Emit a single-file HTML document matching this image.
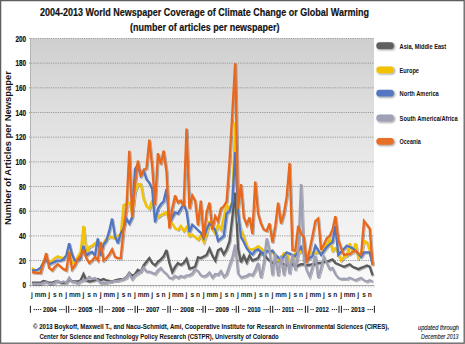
<!DOCTYPE html><html><head><meta charset="utf-8"><style>html,body{margin:0;padding:0;background:#fff;overflow:hidden}svg{display:block}</style></head><body><svg width="465" height="344" viewBox="0 0 465 344">
<defs>
<linearGradient id="bg" x1="0" y1="0" x2="0" y2="1">
<stop offset="0" stop-color="#cfcfcf"/><stop offset="0.25" stop-color="#dcdcdc"/><stop offset="0.45" stop-color="#e6e6e6"/><stop offset="0.7" stop-color="#f0f0f0"/><stop offset="1" stop-color="#f9f9f9"/>
</linearGradient>
<filter id="sh" x="-20%" y="-20%" width="140%" height="160%"><feGaussianBlur in="SourceAlpha" stdDeviation="0.8"/><feOffset dx="0.6" dy="1.2"/><feComponentTransfer><feFuncA type="linear" slope="0.45"/></feComponentTransfer><feMerge><feMergeNode/><feMergeNode in="SourceGraphic"/></feMerge></filter>
<filter id="lsh" x="-5%" y="-5%" width="110%" height="110%"><feGaussianBlur in="SourceAlpha" stdDeviation="0.7"/><feOffset dx="0.5" dy="1"/><feComponentTransfer><feFuncA type="linear" slope="0.3"/></feComponentTransfer><feMerge><feMergeNode/><feMergeNode in="SourceGraphic"/></feMerge></filter>
</defs>
<rect x="0" y="0" width="465" height="344" fill="#fff"/>
<rect x="0.6" y="0.6" width="463.6" height="342.6" fill="none" stroke="#5e5e5e" stroke-width="1.3"/>
<rect x="30.5" y="38.4" width="343.5" height="246.8" fill="url(#bg)"/>
<line x1="29" y1="260.53" x2="374" y2="260.53" stroke="#939393" stroke-width="0.9" stroke-dasharray="1.2,1"/>
<line x1="29" y1="235.86" x2="374" y2="235.86" stroke="#939393" stroke-width="0.9" stroke-dasharray="1.2,1"/>
<line x1="29" y1="211.19" x2="374" y2="211.19" stroke="#939393" stroke-width="0.9" stroke-dasharray="1.2,1"/>
<line x1="29" y1="186.52" x2="374" y2="186.52" stroke="#939393" stroke-width="0.9" stroke-dasharray="1.2,1"/>
<line x1="29" y1="161.85" x2="374" y2="161.85" stroke="#939393" stroke-width="0.9" stroke-dasharray="1.2,1"/>
<line x1="29" y1="137.18" x2="374" y2="137.18" stroke="#939393" stroke-width="0.9" stroke-dasharray="1.2,1"/>
<line x1="29" y1="112.51" x2="374" y2="112.51" stroke="#939393" stroke-width="0.9" stroke-dasharray="1.2,1"/>
<line x1="29" y1="87.84" x2="374" y2="87.84" stroke="#939393" stroke-width="0.9" stroke-dasharray="1.2,1"/>
<line x1="29" y1="63.17" x2="374" y2="63.17" stroke="#939393" stroke-width="0.9" stroke-dasharray="1.2,1"/>
<line x1="29" y1="38.50" x2="374" y2="38.50" stroke="#939393" stroke-width="0.9" stroke-dasharray="1.2,1"/>
<line x1="30.5" y1="38.4" x2="30.5" y2="286" stroke="#b4b4b4" stroke-width="1"/>
<line x1="29" y1="285.5" x2="374" y2="285.5" stroke="#a8a8a8" stroke-width="1"/>
<text x="22.55" y="288.20" font-family="Liberation Sans, sans-serif" font-weight="bold" font-size="8.3" fill="#111" stroke="#111" stroke-width="0.2" textLength="3.55" lengthAdjust="spacingAndGlyphs">0</text>
<text x="19.00" y="263.53" font-family="Liberation Sans, sans-serif" font-weight="bold" font-size="8.3" fill="#111" stroke="#111" stroke-width="0.2" textLength="7.10" lengthAdjust="spacingAndGlyphs">20</text>
<text x="19.00" y="238.86" font-family="Liberation Sans, sans-serif" font-weight="bold" font-size="8.3" fill="#111" stroke="#111" stroke-width="0.2" textLength="7.10" lengthAdjust="spacingAndGlyphs">40</text>
<text x="19.00" y="214.19" font-family="Liberation Sans, sans-serif" font-weight="bold" font-size="8.3" fill="#111" stroke="#111" stroke-width="0.2" textLength="7.10" lengthAdjust="spacingAndGlyphs">60</text>
<text x="19.00" y="189.52" font-family="Liberation Sans, sans-serif" font-weight="bold" font-size="8.3" fill="#111" stroke="#111" stroke-width="0.2" textLength="7.10" lengthAdjust="spacingAndGlyphs">80</text>
<text x="15.45" y="164.85" font-family="Liberation Sans, sans-serif" font-weight="bold" font-size="8.3" fill="#111" stroke="#111" stroke-width="0.2" textLength="10.65" lengthAdjust="spacingAndGlyphs">100</text>
<text x="15.45" y="140.18" font-family="Liberation Sans, sans-serif" font-weight="bold" font-size="8.3" fill="#111" stroke="#111" stroke-width="0.2" textLength="10.65" lengthAdjust="spacingAndGlyphs">120</text>
<text x="15.45" y="115.51" font-family="Liberation Sans, sans-serif" font-weight="bold" font-size="8.3" fill="#111" stroke="#111" stroke-width="0.2" textLength="10.65" lengthAdjust="spacingAndGlyphs">140</text>
<text x="15.45" y="90.84" font-family="Liberation Sans, sans-serif" font-weight="bold" font-size="8.3" fill="#111" stroke="#111" stroke-width="0.2" textLength="10.65" lengthAdjust="spacingAndGlyphs">160</text>
<text x="15.45" y="66.17" font-family="Liberation Sans, sans-serif" font-weight="bold" font-size="8.3" fill="#111" stroke="#111" stroke-width="0.2" textLength="10.65" lengthAdjust="spacingAndGlyphs">180</text>
<text x="15.45" y="41.50" font-family="Liberation Sans, sans-serif" font-weight="bold" font-size="8.3" fill="#111" stroke="#111" stroke-width="0.2" textLength="10.65" lengthAdjust="spacingAndGlyphs">200</text>
<text transform="translate(11,225) rotate(-90)" font-family="Liberation Sans, sans-serif" font-weight="bold" font-size="9.6" fill="#111" textLength="154" lengthAdjust="spacingAndGlyphs">Number of Articles per Newspaper</text>
<text x="40" y="15.8" font-family="Liberation Sans, sans-serif" font-weight="bold" font-size="11.2" fill="#111" stroke="#111" stroke-width="0.18" textLength="329" lengthAdjust="spacingAndGlyphs">2004-2013 World Newspaper Coverage of Climate Change or Global Warming</text>
<text x="130" y="31.4" font-family="Liberation Sans, sans-serif" font-weight="bold" font-size="11.2" fill="#111" stroke="#111" stroke-width="0.18" textLength="149.5" lengthAdjust="spacingAndGlyphs">(number of articles per newspaper)</text>
<g filter="url(#lsh)">
<path d="M31.93,282.73 L34.79,282.73 L37.66,282.73 L40.52,282.73 L43.38,280.88 L46.24,281.50 L49.10,282.73 L51.97,282.73 L54.83,281.50 L57.69,280.88 L60.55,282.73 L63.42,282.73 L66.28,282.73 L69.14,279.03 L72.00,281.50 L74.87,281.50 L77.73,281.50 L80.59,280.27 L83.45,274.10 L86.32,280.27 L89.18,281.50 L92.04,280.88 L94.91,280.27 L97.77,279.03 L100.63,280.27 L103.49,279.03 L106.35,280.27 L109.22,280.88 L112.08,281.50 L114.94,280.27 L117.81,279.65 L120.67,279.03 L123.53,279.03 L126.39,277.18 L129.25,272.87 L132.12,275.95 L134.98,274.10 L137.84,269.90 L140.70,271.63 L143.57,265.46 L146.43,261.76 L149.29,258.06 L152.16,263.00 L155.02,265.46 L157.88,261.76 L160.74,259.30 L163.60,256.34 L166.47,249.92 L169.33,263.00 L172.19,272.12 L175.06,266.94 L177.92,263.00 L180.78,264.85 L183.64,263.00 L186.50,258.93 L189.37,268.67 L192.23,267.93 L195.09,266.70 L197.95,257.45 L200.82,258.06 L203.68,256.58 L206.54,254.98 L209.41,248.57 L212.27,255.60 L215.13,260.53 L217.99,250.17 L220.85,248.57 L223.72,254.36 L226.58,249.43 L229.44,241.41 L232.31,217.36 L235.17,192.69 L238.03,248.19 L240.89,262.26 L243.75,255.72 L246.62,262.26 L249.48,255.60 L252.34,260.53 L255.20,259.30 L258.07,258.06 L260.93,251.90 L263.79,253.13 L266.65,258.06 L269.52,260.53 L272.38,263.00 L275.24,263.00 L278.10,260.53 L280.97,263.00 L283.83,264.23 L286.69,265.46 L289.56,263.00 L292.42,264.23 L295.28,266.70 L298.14,265.46 L301.00,264.23 L303.87,264.23 L306.73,265.46 L309.59,264.85 L312.45,264.23 L315.32,264.23 L318.18,263.00 L321.04,263.00 L323.90,261.76 L326.77,261.76 L329.63,260.53 L332.49,259.30 L335.35,263.00 L338.22,264.23 L341.08,265.46 L343.94,266.70 L346.81,265.46 L349.67,264.23 L352.53,266.70 L355.39,267.93 L358.25,269.16 L361.12,267.93 L363.98,266.70 L366.84,265.46 L369.70,266.70 L372.57,275.33" fill="none" stroke="#5a5a5a" stroke-width="2.3" stroke-linejoin="miter" stroke-miterlimit="3"/>
<path d="M31.93,267.93 L34.79,270.40 L37.66,269.78 L40.52,267.93 L43.38,261.76 L46.24,258.06 L49.10,263.00 L51.97,260.53 L54.83,258.06 L57.69,256.21 L60.55,257.45 L63.42,258.06 L66.28,255.60 L69.14,250.66 L72.00,263.00 L74.87,263.00 L77.73,256.83 L80.59,251.90 L83.45,225.99 L86.32,253.13 L89.18,246.96 L92.04,245.73 L94.91,243.26 L97.77,240.79 L100.63,250.66 L103.49,243.26 L106.35,238.33 L109.22,237.09 L112.08,237.09 L114.94,238.33 L117.81,235.86 L120.67,234.63 L123.53,205.02 L126.39,203.79 L129.25,202.56 L132.12,213.66 L134.98,191.45 L137.84,184.05 L140.70,184.05 L143.57,198.85 L146.43,206.26 L149.29,208.72 L152.16,200.09 L155.02,213.66 L157.88,217.36 L160.74,214.89 L163.60,213.66 L166.47,212.42 L169.33,221.06 L172.19,223.52 L175.06,228.46 L177.92,229.69 L180.78,225.99 L183.64,230.93 L186.50,227.23 L189.37,235.86 L192.23,234.63 L195.09,237.09 L197.95,239.56 L200.82,235.86 L203.68,242.03 L206.54,233.39 L209.41,221.06 L212.27,229.69 L215.13,233.39 L217.99,224.76 L220.85,229.69 L223.72,217.36 L226.58,205.02 L229.44,208.72 L232.31,201.32 L235.17,122.38 L238.03,219.82 L240.89,229.69 L243.75,237.09 L246.62,245.73 L249.48,249.43 L252.34,249.43 L255.20,248.19 L258.07,246.22 L260.93,248.19 L263.79,251.03 L266.65,250.66 L269.52,251.90 L272.38,250.66 L275.24,258.06 L278.10,260.53 L280.97,258.06 L283.83,253.13 L286.69,253.13 L289.56,263.00 L292.42,260.53 L295.28,253.13 L298.14,253.13 L301.00,251.90 L303.87,245.73 L306.73,260.53 L309.59,251.90 L312.45,253.13 L315.32,253.13 L318.18,251.90 L321.04,253.13 L323.90,246.96 L326.77,244.49 L329.63,239.56 L332.49,250.66 L335.35,248.19 L338.22,253.13 L341.08,260.53 L343.94,256.83 L346.81,255.60 L349.67,243.26 L352.53,253.13 L355.39,243.26 L358.25,258.06 L361.12,254.36 L363.98,240.79 L366.84,242.03 L369.70,250.66 L372.57,263.00" fill="none" stroke="#f2c200" stroke-width="2.3" stroke-linejoin="miter" stroke-miterlimit="3"/>
<path d="M31.93,270.40 L34.79,270.40 L37.66,269.78 L40.52,267.93 L43.38,263.00 L46.24,259.30 L49.10,264.23 L51.97,263.00 L54.83,261.76 L57.69,260.53 L60.55,260.53 L63.42,259.30 L66.28,255.60 L69.14,243.26 L72.00,254.36 L74.87,260.53 L77.73,260.53 L80.59,258.06 L83.45,245.73 L86.32,255.60 L89.18,253.13 L92.04,251.90 L94.91,255.60 L97.77,238.33 L100.63,255.60 L103.49,244.49 L106.35,240.79 L109.22,230.93 L112.08,218.59 L114.94,235.86 L117.81,243.26 L120.67,233.39 L123.53,228.46 L126.39,218.59 L129.25,223.52 L132.12,217.36 L134.98,169.25 L137.84,164.32 L140.70,175.42 L143.57,170.48 L146.43,179.12 L149.29,182.82 L152.16,188.99 L155.02,222.29 L157.88,208.72 L160.74,204.28 L163.60,201.32 L166.47,188.99 L169.33,223.52 L172.19,217.36 L175.06,212.42 L177.92,213.66 L180.78,208.72 L183.64,204.28 L186.50,211.19 L189.37,232.16 L192.23,224.76 L195.09,227.23 L197.95,230.19 L200.82,232.78 L203.68,238.33 L206.54,229.69 L209.41,223.52 L212.27,225.99 L215.13,229.69 L217.99,240.79 L220.85,238.33 L223.72,235.86 L226.58,213.66 L229.44,211.19 L232.31,202.56 L235.17,151.98 L238.03,211.19 L240.89,237.09 L243.75,242.03 L246.62,248.19 L249.48,251.90 L252.34,254.36 L255.20,250.66 L258.07,249.43 L260.93,251.90 L263.79,255.60 L266.65,250.66 L269.52,251.90 L272.38,250.66 L275.24,254.86 L278.10,257.45 L280.97,260.04 L283.83,256.21 L286.69,252.39 L289.56,253.62 L292.42,254.86 L295.28,256.09 L298.14,251.53 L301.00,246.96 L303.87,253.50 L306.73,260.04 L309.59,258.06 L312.45,256.09 L315.32,245.73 L318.18,250.29 L321.04,254.86 L323.90,250.91 L326.77,246.96 L329.63,244.49 L332.49,242.03 L335.35,225.99 L338.22,254.86 L341.08,251.81 L343.94,248.77 L346.81,245.73 L349.67,246.96 L352.53,248.19 L355.39,250.66 L358.25,253.75 L361.12,256.83 L363.98,252.39 L366.84,252.39 L369.70,252.39 L372.57,264.85" fill="none" stroke="#4f74c4" stroke-width="2.3" stroke-linejoin="miter" stroke-miterlimit="3"/>
<path d="M31.93,283.97 L34.79,283.97 L37.66,283.97 L40.52,283.97 L43.38,282.73 L46.24,282.12 L49.10,283.97 L51.97,283.97 L54.83,282.73 L57.69,280.88 L60.55,282.73 L63.42,281.50 L66.28,282.73 L69.14,277.80 L72.00,282.12 L74.87,282.12 L77.73,283.35 L80.59,281.50 L83.45,280.27 L86.32,280.27 L89.18,276.81 L92.04,279.03 L94.91,278.05 L97.77,280.27 L100.63,283.35 L103.49,282.73 L106.35,282.73 L109.22,282.12 L112.08,281.50 L114.94,280.88 L117.81,280.88 L120.67,280.27 L123.53,279.03 L126.39,277.80 L129.25,273.48 L132.12,279.03 L134.98,275.33 L137.84,273.48 L140.70,271.63 L143.57,267.56 L146.43,271.63 L149.29,271.63 L152.16,272.87 L155.02,274.10 L157.88,270.40 L160.74,267.93 L163.60,271.63 L166.47,274.10 L169.33,277.80 L172.19,278.42 L175.06,275.95 L177.92,277.80 L180.78,275.95 L183.64,277.18 L186.50,275.33 L189.37,275.33 L192.23,273.48 L195.09,269.29 L197.95,271.01 L200.82,275.33 L203.68,276.57 L206.54,275.33 L209.41,272.49 L212.27,277.43 L215.13,274.10 L217.99,274.72 L220.85,271.01 L223.72,276.57 L226.58,274.10 L229.44,265.46 L232.31,257.45 L235.17,244.62 L238.03,273.36 L240.89,277.43 L243.75,276.57 L246.62,275.83 L249.48,274.10 L252.34,275.33 L255.20,270.40 L258.07,263.00 L260.93,277.80 L263.79,263.00 L266.65,238.33 L269.52,250.66 L272.38,275.33 L275.24,253.13 L278.10,275.95 L280.97,255.60 L283.83,275.33 L286.69,255.60 L289.56,274.10 L292.42,254.36 L295.28,270.40 L298.14,253.13 L301.00,184.05 L303.87,260.53 L306.73,270.40 L309.59,276.57 L312.45,266.70 L315.32,255.60 L318.18,277.80 L321.04,267.93 L323.90,256.83 L326.77,263.00 L329.63,269.16 L332.49,267.93 L335.35,274.10 L338.22,277.80 L341.08,279.03 L343.94,278.66 L346.81,279.03 L349.67,277.80 L352.53,279.03 L355.39,280.27 L358.25,279.03 L361.12,277.80 L363.98,280.27 L366.84,281.50 L369.70,280.27 L372.57,281.50" fill="none" stroke="#9fa0b3" stroke-width="2.3" stroke-linejoin="miter" stroke-miterlimit="3"/>
<path d="M31.93,272.25 L34.79,272.49 L37.66,272.87 L40.52,273.11 L43.38,263.00 L46.24,253.13 L49.10,267.93 L51.97,270.40 L54.83,266.70 L57.69,264.23 L60.55,266.70 L63.42,269.16 L66.28,270.40 L69.14,251.90 L72.00,269.16 L74.87,265.46 L77.73,259.30 L80.59,255.60 L83.45,250.66 L86.32,258.06 L89.18,263.00 L92.04,260.53 L94.91,256.83 L97.77,260.53 L100.63,242.03 L103.49,260.53 L106.35,258.06 L109.22,254.36 L112.08,249.43 L114.94,256.83 L117.81,258.06 L120.67,258.06 L123.53,229.69 L126.39,208.72 L129.25,150.75 L132.12,217.36 L134.98,184.05 L137.84,160.62 L140.70,176.65 L143.57,170.48 L146.43,168.02 L149.29,139.65 L152.16,166.78 L155.02,205.02 L157.88,153.22 L160.74,164.32 L163.60,150.75 L166.47,171.72 L169.33,228.46 L172.19,208.72 L175.06,195.52 L177.92,202.56 L180.78,200.71 L183.64,206.26 L186.50,128.55 L189.37,208.72 L192.23,195.52 L195.09,200.71 L197.95,225.25 L200.82,200.71 L203.68,238.33 L206.54,212.42 L209.41,202.56 L212.27,229.69 L215.13,216.12 L217.99,221.06 L220.85,208.72 L223.72,206.26 L226.58,201.32 L229.44,161.85 L232.31,112.51 L235.17,63.17 L238.03,208.72 L240.89,184.05 L243.75,217.36 L246.62,224.76 L249.48,217.36 L252.34,233.89 L255.20,181.59 L258.07,213.66 L260.93,223.52 L263.79,229.69 L266.65,230.93 L269.52,223.52 L272.38,242.52 L275.24,225.99 L278.10,202.56 L280.97,223.52 L283.83,213.66 L286.69,196.39 L289.56,163.08 L292.42,250.05 L295.28,250.66 L298.14,225.99 L301.00,233.39 L303.87,237.09 L306.73,263.00 L309.59,249.92 L312.45,235.86 L315.32,221.06 L318.18,218.59 L321.04,249.92 L323.90,244.49 L326.77,238.33 L329.63,235.86 L332.49,229.69 L335.35,216.12 L338.22,239.56 L341.08,248.19 L343.94,254.86 L346.81,254.36 L349.67,254.36 L352.53,251.90 L355.39,250.66 L358.25,253.13 L361.12,254.86 L363.98,221.06 L366.84,224.76 L369.70,228.71 L372.57,265.46" fill="none" stroke="#e8671f" stroke-width="2.3" stroke-linejoin="miter" stroke-miterlimit="3"/>
</g>
<rect x="376.3" y="42.30" width="17.6" height="6.8" rx="3.4" fill="#5f5f5f" filter="url(#sh)"/>
<text x="399.6" y="48.60" font-family="Liberation Sans, sans-serif" font-weight="bold" font-size="7.5" fill="#111" textLength="46.5" lengthAdjust="spacingAndGlyphs">Asia, Middle East</text>
<rect x="376.3" y="66.40" width="17.6" height="6.8" rx="3.4" fill="#f2c200" filter="url(#sh)"/>
<text x="399.6" y="72.70" font-family="Liberation Sans, sans-serif" font-weight="bold" font-size="7.5" fill="#111" textLength="19.4" lengthAdjust="spacingAndGlyphs">Europe</text>
<rect x="376.3" y="89.80" width="17.6" height="6.8" rx="3.4" fill="#5577c2" filter="url(#sh)"/>
<text x="399.6" y="96.10" font-family="Liberation Sans, sans-serif" font-weight="bold" font-size="7.5" fill="#111" textLength="39.2" lengthAdjust="spacingAndGlyphs">North America</text>
<rect x="376.3" y="114.60" width="17.6" height="6.8" rx="3.4" fill="#9fa0b3" filter="url(#sh)"/>
<text x="399.6" y="120.90" font-family="Liberation Sans, sans-serif" font-weight="bold" font-size="7.5" fill="#111" textLength="58.1" lengthAdjust="spacingAndGlyphs">South America/Africa</text>
<rect x="376.3" y="137.90" width="17.6" height="6.8" rx="3.4" fill="#e86f28" filter="url(#sh)"/>
<text x="399.6" y="144.20" font-family="Liberation Sans, sans-serif" font-weight="bold" font-size="7.5" fill="#111" textLength="21.2" lengthAdjust="spacingAndGlyphs">Oceania</text>
<text x="31.93" y="296.7" font-family="Liberation Sans, sans-serif" font-weight="bold" font-size="6.6" fill="#1a1a1a" text-anchor="middle">j</text>
<text x="37.66" y="296.7" font-family="Liberation Sans, sans-serif" font-weight="bold" font-size="6.6" fill="#1a1a1a" text-anchor="middle">m</text>
<text x="43.38" y="296.7" font-family="Liberation Sans, sans-serif" font-weight="bold" font-size="6.6" fill="#1a1a1a" text-anchor="middle">m</text>
<text x="49.10" y="296.7" font-family="Liberation Sans, sans-serif" font-weight="bold" font-size="6.6" fill="#1a1a1a" text-anchor="middle">j</text>
<text x="54.83" y="296.7" font-family="Liberation Sans, sans-serif" font-weight="bold" font-size="6.6" fill="#1a1a1a" text-anchor="middle">s</text>
<text x="60.55" y="296.7" font-family="Liberation Sans, sans-serif" font-weight="bold" font-size="6.6" fill="#1a1a1a" text-anchor="middle">n</text>
<text x="66.28" y="296.7" font-family="Liberation Sans, sans-serif" font-weight="bold" font-size="6.6" fill="#1a1a1a" text-anchor="middle">j</text>
<text x="72.00" y="296.7" font-family="Liberation Sans, sans-serif" font-weight="bold" font-size="6.6" fill="#1a1a1a" text-anchor="middle">m</text>
<text x="77.73" y="296.7" font-family="Liberation Sans, sans-serif" font-weight="bold" font-size="6.6" fill="#1a1a1a" text-anchor="middle">m</text>
<text x="83.45" y="296.7" font-family="Liberation Sans, sans-serif" font-weight="bold" font-size="6.6" fill="#1a1a1a" text-anchor="middle">j</text>
<text x="89.18" y="296.7" font-family="Liberation Sans, sans-serif" font-weight="bold" font-size="6.6" fill="#1a1a1a" text-anchor="middle">s</text>
<text x="94.91" y="296.7" font-family="Liberation Sans, sans-serif" font-weight="bold" font-size="6.6" fill="#1a1a1a" text-anchor="middle">n</text>
<text x="100.63" y="296.7" font-family="Liberation Sans, sans-serif" font-weight="bold" font-size="6.6" fill="#1a1a1a" text-anchor="middle">j</text>
<text x="106.35" y="296.7" font-family="Liberation Sans, sans-serif" font-weight="bold" font-size="6.6" fill="#1a1a1a" text-anchor="middle">m</text>
<text x="112.08" y="296.7" font-family="Liberation Sans, sans-serif" font-weight="bold" font-size="6.6" fill="#1a1a1a" text-anchor="middle">m</text>
<text x="117.81" y="296.7" font-family="Liberation Sans, sans-serif" font-weight="bold" font-size="6.6" fill="#1a1a1a" text-anchor="middle">j</text>
<text x="123.53" y="296.7" font-family="Liberation Sans, sans-serif" font-weight="bold" font-size="6.6" fill="#1a1a1a" text-anchor="middle">s</text>
<text x="129.25" y="296.7" font-family="Liberation Sans, sans-serif" font-weight="bold" font-size="6.6" fill="#1a1a1a" text-anchor="middle">n</text>
<text x="134.98" y="296.7" font-family="Liberation Sans, sans-serif" font-weight="bold" font-size="6.6" fill="#1a1a1a" text-anchor="middle">j</text>
<text x="140.70" y="296.7" font-family="Liberation Sans, sans-serif" font-weight="bold" font-size="6.6" fill="#1a1a1a" text-anchor="middle">m</text>
<text x="146.43" y="296.7" font-family="Liberation Sans, sans-serif" font-weight="bold" font-size="6.6" fill="#1a1a1a" text-anchor="middle">m</text>
<text x="152.16" y="296.7" font-family="Liberation Sans, sans-serif" font-weight="bold" font-size="6.6" fill="#1a1a1a" text-anchor="middle">j</text>
<text x="157.88" y="296.7" font-family="Liberation Sans, sans-serif" font-weight="bold" font-size="6.6" fill="#1a1a1a" text-anchor="middle">s</text>
<text x="163.60" y="296.7" font-family="Liberation Sans, sans-serif" font-weight="bold" font-size="6.6" fill="#1a1a1a" text-anchor="middle">n</text>
<text x="169.33" y="296.7" font-family="Liberation Sans, sans-serif" font-weight="bold" font-size="6.6" fill="#1a1a1a" text-anchor="middle">j</text>
<text x="175.06" y="296.7" font-family="Liberation Sans, sans-serif" font-weight="bold" font-size="6.6" fill="#1a1a1a" text-anchor="middle">m</text>
<text x="180.78" y="296.7" font-family="Liberation Sans, sans-serif" font-weight="bold" font-size="6.6" fill="#1a1a1a" text-anchor="middle">m</text>
<text x="186.50" y="296.7" font-family="Liberation Sans, sans-serif" font-weight="bold" font-size="6.6" fill="#1a1a1a" text-anchor="middle">j</text>
<text x="192.23" y="296.7" font-family="Liberation Sans, sans-serif" font-weight="bold" font-size="6.6" fill="#1a1a1a" text-anchor="middle">s</text>
<text x="197.95" y="296.7" font-family="Liberation Sans, sans-serif" font-weight="bold" font-size="6.6" fill="#1a1a1a" text-anchor="middle">n</text>
<text x="203.68" y="296.7" font-family="Liberation Sans, sans-serif" font-weight="bold" font-size="6.6" fill="#1a1a1a" text-anchor="middle">j</text>
<text x="209.41" y="296.7" font-family="Liberation Sans, sans-serif" font-weight="bold" font-size="6.6" fill="#1a1a1a" text-anchor="middle">m</text>
<text x="215.13" y="296.7" font-family="Liberation Sans, sans-serif" font-weight="bold" font-size="6.6" fill="#1a1a1a" text-anchor="middle">m</text>
<text x="220.85" y="296.7" font-family="Liberation Sans, sans-serif" font-weight="bold" font-size="6.6" fill="#1a1a1a" text-anchor="middle">j</text>
<text x="226.58" y="296.7" font-family="Liberation Sans, sans-serif" font-weight="bold" font-size="6.6" fill="#1a1a1a" text-anchor="middle">s</text>
<text x="232.31" y="296.7" font-family="Liberation Sans, sans-serif" font-weight="bold" font-size="6.6" fill="#1a1a1a" text-anchor="middle">n</text>
<text x="238.03" y="296.7" font-family="Liberation Sans, sans-serif" font-weight="bold" font-size="6.6" fill="#1a1a1a" text-anchor="middle">j</text>
<text x="243.75" y="296.7" font-family="Liberation Sans, sans-serif" font-weight="bold" font-size="6.6" fill="#1a1a1a" text-anchor="middle">m</text>
<text x="249.48" y="296.7" font-family="Liberation Sans, sans-serif" font-weight="bold" font-size="6.6" fill="#1a1a1a" text-anchor="middle">m</text>
<text x="255.20" y="296.7" font-family="Liberation Sans, sans-serif" font-weight="bold" font-size="6.6" fill="#1a1a1a" text-anchor="middle">j</text>
<text x="260.93" y="296.7" font-family="Liberation Sans, sans-serif" font-weight="bold" font-size="6.6" fill="#1a1a1a" text-anchor="middle">s</text>
<text x="266.65" y="296.7" font-family="Liberation Sans, sans-serif" font-weight="bold" font-size="6.6" fill="#1a1a1a" text-anchor="middle">n</text>
<text x="272.38" y="296.7" font-family="Liberation Sans, sans-serif" font-weight="bold" font-size="6.6" fill="#1a1a1a" text-anchor="middle">j</text>
<text x="278.10" y="296.7" font-family="Liberation Sans, sans-serif" font-weight="bold" font-size="6.6" fill="#1a1a1a" text-anchor="middle">m</text>
<text x="283.83" y="296.7" font-family="Liberation Sans, sans-serif" font-weight="bold" font-size="6.6" fill="#1a1a1a" text-anchor="middle">m</text>
<text x="289.56" y="296.7" font-family="Liberation Sans, sans-serif" font-weight="bold" font-size="6.6" fill="#1a1a1a" text-anchor="middle">j</text>
<text x="295.28" y="296.7" font-family="Liberation Sans, sans-serif" font-weight="bold" font-size="6.6" fill="#1a1a1a" text-anchor="middle">s</text>
<text x="301.00" y="296.7" font-family="Liberation Sans, sans-serif" font-weight="bold" font-size="6.6" fill="#1a1a1a" text-anchor="middle">n</text>
<text x="306.73" y="296.7" font-family="Liberation Sans, sans-serif" font-weight="bold" font-size="6.6" fill="#1a1a1a" text-anchor="middle">j</text>
<text x="312.45" y="296.7" font-family="Liberation Sans, sans-serif" font-weight="bold" font-size="6.6" fill="#1a1a1a" text-anchor="middle">m</text>
<text x="318.18" y="296.7" font-family="Liberation Sans, sans-serif" font-weight="bold" font-size="6.6" fill="#1a1a1a" text-anchor="middle">m</text>
<text x="323.90" y="296.7" font-family="Liberation Sans, sans-serif" font-weight="bold" font-size="6.6" fill="#1a1a1a" text-anchor="middle">j</text>
<text x="329.63" y="296.7" font-family="Liberation Sans, sans-serif" font-weight="bold" font-size="6.6" fill="#1a1a1a" text-anchor="middle">s</text>
<text x="335.35" y="296.7" font-family="Liberation Sans, sans-serif" font-weight="bold" font-size="6.6" fill="#1a1a1a" text-anchor="middle">n</text>
<text x="341.08" y="296.7" font-family="Liberation Sans, sans-serif" font-weight="bold" font-size="6.6" fill="#1a1a1a" text-anchor="middle">j</text>
<text x="346.81" y="296.7" font-family="Liberation Sans, sans-serif" font-weight="bold" font-size="6.6" fill="#1a1a1a" text-anchor="middle">m</text>
<text x="352.53" y="296.7" font-family="Liberation Sans, sans-serif" font-weight="bold" font-size="6.6" fill="#1a1a1a" text-anchor="middle">m</text>
<text x="358.25" y="296.7" font-family="Liberation Sans, sans-serif" font-weight="bold" font-size="6.6" fill="#1a1a1a" text-anchor="middle">j</text>
<text x="363.98" y="296.7" font-family="Liberation Sans, sans-serif" font-weight="bold" font-size="6.6" fill="#1a1a1a" text-anchor="middle">s</text>
<text x="369.70" y="296.7" font-family="Liberation Sans, sans-serif" font-weight="bold" font-size="6.6" fill="#1a1a1a" text-anchor="middle">n</text>
<line x1="30.50" y1="285.5" x2="30.50" y2="287.5" stroke="#a0a0a0" stroke-width="0.6"/>
<line x1="33.36" y1="285.5" x2="33.36" y2="287.5" stroke="#a0a0a0" stroke-width="0.6"/>
<line x1="36.23" y1="285.5" x2="36.23" y2="287.5" stroke="#a0a0a0" stroke-width="0.6"/>
<line x1="39.09" y1="285.5" x2="39.09" y2="287.5" stroke="#a0a0a0" stroke-width="0.6"/>
<line x1="41.95" y1="285.5" x2="41.95" y2="287.5" stroke="#a0a0a0" stroke-width="0.6"/>
<line x1="44.81" y1="285.5" x2="44.81" y2="287.5" stroke="#a0a0a0" stroke-width="0.6"/>
<line x1="47.67" y1="285.5" x2="47.67" y2="287.5" stroke="#a0a0a0" stroke-width="0.6"/>
<line x1="50.54" y1="285.5" x2="50.54" y2="287.5" stroke="#a0a0a0" stroke-width="0.6"/>
<line x1="53.40" y1="285.5" x2="53.40" y2="287.5" stroke="#a0a0a0" stroke-width="0.6"/>
<line x1="56.26" y1="285.5" x2="56.26" y2="287.5" stroke="#a0a0a0" stroke-width="0.6"/>
<line x1="59.12" y1="285.5" x2="59.12" y2="287.5" stroke="#a0a0a0" stroke-width="0.6"/>
<line x1="61.99" y1="285.5" x2="61.99" y2="287.5" stroke="#a0a0a0" stroke-width="0.6"/>
<line x1="64.85" y1="285.5" x2="64.85" y2="287.5" stroke="#a0a0a0" stroke-width="0.6"/>
<line x1="67.71" y1="285.5" x2="67.71" y2="287.5" stroke="#a0a0a0" stroke-width="0.6"/>
<line x1="70.57" y1="285.5" x2="70.57" y2="287.5" stroke="#a0a0a0" stroke-width="0.6"/>
<line x1="73.44" y1="285.5" x2="73.44" y2="287.5" stroke="#a0a0a0" stroke-width="0.6"/>
<line x1="76.30" y1="285.5" x2="76.30" y2="287.5" stroke="#a0a0a0" stroke-width="0.6"/>
<line x1="79.16" y1="285.5" x2="79.16" y2="287.5" stroke="#a0a0a0" stroke-width="0.6"/>
<line x1="82.03" y1="285.5" x2="82.03" y2="287.5" stroke="#a0a0a0" stroke-width="0.6"/>
<line x1="84.89" y1="285.5" x2="84.89" y2="287.5" stroke="#a0a0a0" stroke-width="0.6"/>
<line x1="87.75" y1="285.5" x2="87.75" y2="287.5" stroke="#a0a0a0" stroke-width="0.6"/>
<line x1="90.61" y1="285.5" x2="90.61" y2="287.5" stroke="#a0a0a0" stroke-width="0.6"/>
<line x1="93.47" y1="285.5" x2="93.47" y2="287.5" stroke="#a0a0a0" stroke-width="0.6"/>
<line x1="96.34" y1="285.5" x2="96.34" y2="287.5" stroke="#a0a0a0" stroke-width="0.6"/>
<line x1="99.20" y1="285.5" x2="99.20" y2="287.5" stroke="#a0a0a0" stroke-width="0.6"/>
<line x1="102.06" y1="285.5" x2="102.06" y2="287.5" stroke="#a0a0a0" stroke-width="0.6"/>
<line x1="104.92" y1="285.5" x2="104.92" y2="287.5" stroke="#a0a0a0" stroke-width="0.6"/>
<line x1="107.79" y1="285.5" x2="107.79" y2="287.5" stroke="#a0a0a0" stroke-width="0.6"/>
<line x1="110.65" y1="285.5" x2="110.65" y2="287.5" stroke="#a0a0a0" stroke-width="0.6"/>
<line x1="113.51" y1="285.5" x2="113.51" y2="287.5" stroke="#a0a0a0" stroke-width="0.6"/>
<line x1="116.38" y1="285.5" x2="116.38" y2="287.5" stroke="#a0a0a0" stroke-width="0.6"/>
<line x1="119.24" y1="285.5" x2="119.24" y2="287.5" stroke="#a0a0a0" stroke-width="0.6"/>
<line x1="122.10" y1="285.5" x2="122.10" y2="287.5" stroke="#a0a0a0" stroke-width="0.6"/>
<line x1="124.96" y1="285.5" x2="124.96" y2="287.5" stroke="#a0a0a0" stroke-width="0.6"/>
<line x1="127.82" y1="285.5" x2="127.82" y2="287.5" stroke="#a0a0a0" stroke-width="0.6"/>
<line x1="130.69" y1="285.5" x2="130.69" y2="287.5" stroke="#a0a0a0" stroke-width="0.6"/>
<line x1="133.55" y1="285.5" x2="133.55" y2="287.5" stroke="#a0a0a0" stroke-width="0.6"/>
<line x1="136.41" y1="285.5" x2="136.41" y2="287.5" stroke="#a0a0a0" stroke-width="0.6"/>
<line x1="139.27" y1="285.5" x2="139.27" y2="287.5" stroke="#a0a0a0" stroke-width="0.6"/>
<line x1="142.14" y1="285.5" x2="142.14" y2="287.5" stroke="#a0a0a0" stroke-width="0.6"/>
<line x1="145.00" y1="285.5" x2="145.00" y2="287.5" stroke="#a0a0a0" stroke-width="0.6"/>
<line x1="147.86" y1="285.5" x2="147.86" y2="287.5" stroke="#a0a0a0" stroke-width="0.6"/>
<line x1="150.72" y1="285.5" x2="150.72" y2="287.5" stroke="#a0a0a0" stroke-width="0.6"/>
<line x1="153.59" y1="285.5" x2="153.59" y2="287.5" stroke="#a0a0a0" stroke-width="0.6"/>
<line x1="156.45" y1="285.5" x2="156.45" y2="287.5" stroke="#a0a0a0" stroke-width="0.6"/>
<line x1="159.31" y1="285.5" x2="159.31" y2="287.5" stroke="#a0a0a0" stroke-width="0.6"/>
<line x1="162.17" y1="285.5" x2="162.17" y2="287.5" stroke="#a0a0a0" stroke-width="0.6"/>
<line x1="165.04" y1="285.5" x2="165.04" y2="287.5" stroke="#a0a0a0" stroke-width="0.6"/>
<line x1="167.90" y1="285.5" x2="167.90" y2="287.5" stroke="#a0a0a0" stroke-width="0.6"/>
<line x1="170.76" y1="285.5" x2="170.76" y2="287.5" stroke="#a0a0a0" stroke-width="0.6"/>
<line x1="173.62" y1="285.5" x2="173.62" y2="287.5" stroke="#a0a0a0" stroke-width="0.6"/>
<line x1="176.49" y1="285.5" x2="176.49" y2="287.5" stroke="#a0a0a0" stroke-width="0.6"/>
<line x1="179.35" y1="285.5" x2="179.35" y2="287.5" stroke="#a0a0a0" stroke-width="0.6"/>
<line x1="182.21" y1="285.5" x2="182.21" y2="287.5" stroke="#a0a0a0" stroke-width="0.6"/>
<line x1="185.07" y1="285.5" x2="185.07" y2="287.5" stroke="#a0a0a0" stroke-width="0.6"/>
<line x1="187.94" y1="285.5" x2="187.94" y2="287.5" stroke="#a0a0a0" stroke-width="0.6"/>
<line x1="190.80" y1="285.5" x2="190.80" y2="287.5" stroke="#a0a0a0" stroke-width="0.6"/>
<line x1="193.66" y1="285.5" x2="193.66" y2="287.5" stroke="#a0a0a0" stroke-width="0.6"/>
<line x1="196.52" y1="285.5" x2="196.52" y2="287.5" stroke="#a0a0a0" stroke-width="0.6"/>
<line x1="199.39" y1="285.5" x2="199.39" y2="287.5" stroke="#a0a0a0" stroke-width="0.6"/>
<line x1="202.25" y1="285.5" x2="202.25" y2="287.5" stroke="#a0a0a0" stroke-width="0.6"/>
<line x1="205.11" y1="285.5" x2="205.11" y2="287.5" stroke="#a0a0a0" stroke-width="0.6"/>
<line x1="207.97" y1="285.5" x2="207.97" y2="287.5" stroke="#a0a0a0" stroke-width="0.6"/>
<line x1="210.84" y1="285.5" x2="210.84" y2="287.5" stroke="#a0a0a0" stroke-width="0.6"/>
<line x1="213.70" y1="285.5" x2="213.70" y2="287.5" stroke="#a0a0a0" stroke-width="0.6"/>
<line x1="216.56" y1="285.5" x2="216.56" y2="287.5" stroke="#a0a0a0" stroke-width="0.6"/>
<line x1="219.42" y1="285.5" x2="219.42" y2="287.5" stroke="#a0a0a0" stroke-width="0.6"/>
<line x1="222.29" y1="285.5" x2="222.29" y2="287.5" stroke="#a0a0a0" stroke-width="0.6"/>
<line x1="225.15" y1="285.5" x2="225.15" y2="287.5" stroke="#a0a0a0" stroke-width="0.6"/>
<line x1="228.01" y1="285.5" x2="228.01" y2="287.5" stroke="#a0a0a0" stroke-width="0.6"/>
<line x1="230.88" y1="285.5" x2="230.88" y2="287.5" stroke="#a0a0a0" stroke-width="0.6"/>
<line x1="233.74" y1="285.5" x2="233.74" y2="287.5" stroke="#a0a0a0" stroke-width="0.6"/>
<line x1="236.60" y1="285.5" x2="236.60" y2="287.5" stroke="#a0a0a0" stroke-width="0.6"/>
<line x1="239.46" y1="285.5" x2="239.46" y2="287.5" stroke="#a0a0a0" stroke-width="0.6"/>
<line x1="242.32" y1="285.5" x2="242.32" y2="287.5" stroke="#a0a0a0" stroke-width="0.6"/>
<line x1="245.19" y1="285.5" x2="245.19" y2="287.5" stroke="#a0a0a0" stroke-width="0.6"/>
<line x1="248.05" y1="285.5" x2="248.05" y2="287.5" stroke="#a0a0a0" stroke-width="0.6"/>
<line x1="250.91" y1="285.5" x2="250.91" y2="287.5" stroke="#a0a0a0" stroke-width="0.6"/>
<line x1="253.77" y1="285.5" x2="253.77" y2="287.5" stroke="#a0a0a0" stroke-width="0.6"/>
<line x1="256.64" y1="285.5" x2="256.64" y2="287.5" stroke="#a0a0a0" stroke-width="0.6"/>
<line x1="259.50" y1="285.5" x2="259.50" y2="287.5" stroke="#a0a0a0" stroke-width="0.6"/>
<line x1="262.36" y1="285.5" x2="262.36" y2="287.5" stroke="#a0a0a0" stroke-width="0.6"/>
<line x1="265.23" y1="285.5" x2="265.23" y2="287.5" stroke="#a0a0a0" stroke-width="0.6"/>
<line x1="268.09" y1="285.5" x2="268.09" y2="287.5" stroke="#a0a0a0" stroke-width="0.6"/>
<line x1="270.95" y1="285.5" x2="270.95" y2="287.5" stroke="#a0a0a0" stroke-width="0.6"/>
<line x1="273.81" y1="285.5" x2="273.81" y2="287.5" stroke="#a0a0a0" stroke-width="0.6"/>
<line x1="276.67" y1="285.5" x2="276.67" y2="287.5" stroke="#a0a0a0" stroke-width="0.6"/>
<line x1="279.54" y1="285.5" x2="279.54" y2="287.5" stroke="#a0a0a0" stroke-width="0.6"/>
<line x1="282.40" y1="285.5" x2="282.40" y2="287.5" stroke="#a0a0a0" stroke-width="0.6"/>
<line x1="285.26" y1="285.5" x2="285.26" y2="287.5" stroke="#a0a0a0" stroke-width="0.6"/>
<line x1="288.12" y1="285.5" x2="288.12" y2="287.5" stroke="#a0a0a0" stroke-width="0.6"/>
<line x1="290.99" y1="285.5" x2="290.99" y2="287.5" stroke="#a0a0a0" stroke-width="0.6"/>
<line x1="293.85" y1="285.5" x2="293.85" y2="287.5" stroke="#a0a0a0" stroke-width="0.6"/>
<line x1="296.71" y1="285.5" x2="296.71" y2="287.5" stroke="#a0a0a0" stroke-width="0.6"/>
<line x1="299.57" y1="285.5" x2="299.57" y2="287.5" stroke="#a0a0a0" stroke-width="0.6"/>
<line x1="302.44" y1="285.5" x2="302.44" y2="287.5" stroke="#a0a0a0" stroke-width="0.6"/>
<line x1="305.30" y1="285.5" x2="305.30" y2="287.5" stroke="#a0a0a0" stroke-width="0.6"/>
<line x1="308.16" y1="285.5" x2="308.16" y2="287.5" stroke="#a0a0a0" stroke-width="0.6"/>
<line x1="311.02" y1="285.5" x2="311.02" y2="287.5" stroke="#a0a0a0" stroke-width="0.6"/>
<line x1="313.89" y1="285.5" x2="313.89" y2="287.5" stroke="#a0a0a0" stroke-width="0.6"/>
<line x1="316.75" y1="285.5" x2="316.75" y2="287.5" stroke="#a0a0a0" stroke-width="0.6"/>
<line x1="319.61" y1="285.5" x2="319.61" y2="287.5" stroke="#a0a0a0" stroke-width="0.6"/>
<line x1="322.47" y1="285.5" x2="322.47" y2="287.5" stroke="#a0a0a0" stroke-width="0.6"/>
<line x1="325.34" y1="285.5" x2="325.34" y2="287.5" stroke="#a0a0a0" stroke-width="0.6"/>
<line x1="328.20" y1="285.5" x2="328.20" y2="287.5" stroke="#a0a0a0" stroke-width="0.6"/>
<line x1="331.06" y1="285.5" x2="331.06" y2="287.5" stroke="#a0a0a0" stroke-width="0.6"/>
<line x1="333.92" y1="285.5" x2="333.92" y2="287.5" stroke="#a0a0a0" stroke-width="0.6"/>
<line x1="336.79" y1="285.5" x2="336.79" y2="287.5" stroke="#a0a0a0" stroke-width="0.6"/>
<line x1="339.65" y1="285.5" x2="339.65" y2="287.5" stroke="#a0a0a0" stroke-width="0.6"/>
<line x1="342.51" y1="285.5" x2="342.51" y2="287.5" stroke="#a0a0a0" stroke-width="0.6"/>
<line x1="345.38" y1="285.5" x2="345.38" y2="287.5" stroke="#a0a0a0" stroke-width="0.6"/>
<line x1="348.24" y1="285.5" x2="348.24" y2="287.5" stroke="#a0a0a0" stroke-width="0.6"/>
<line x1="351.10" y1="285.5" x2="351.10" y2="287.5" stroke="#a0a0a0" stroke-width="0.6"/>
<line x1="353.96" y1="285.5" x2="353.96" y2="287.5" stroke="#a0a0a0" stroke-width="0.6"/>
<line x1="356.82" y1="285.5" x2="356.82" y2="287.5" stroke="#a0a0a0" stroke-width="0.6"/>
<line x1="359.69" y1="285.5" x2="359.69" y2="287.5" stroke="#a0a0a0" stroke-width="0.6"/>
<line x1="362.55" y1="285.5" x2="362.55" y2="287.5" stroke="#a0a0a0" stroke-width="0.6"/>
<line x1="365.41" y1="285.5" x2="365.41" y2="287.5" stroke="#a0a0a0" stroke-width="0.6"/>
<line x1="368.27" y1="285.5" x2="368.27" y2="287.5" stroke="#a0a0a0" stroke-width="0.6"/>
<line x1="371.14" y1="285.5" x2="371.14" y2="287.5" stroke="#a0a0a0" stroke-width="0.6"/>
<line x1="374.00" y1="285.5" x2="374.00" y2="287.5" stroke="#a0a0a0" stroke-width="0.6"/>
<text x="43.1" y="311.5" font-family="Liberation Sans, sans-serif" font-weight="bold" font-size="6.7" fill="#111" stroke="#111" stroke-width="0.12" textLength="13.3" lengthAdjust="spacingAndGlyphs">2004</text>
<text x="78.2" y="311.5" font-family="Liberation Sans, sans-serif" font-weight="bold" font-size="6.7" fill="#111" stroke="#111" stroke-width="0.12" textLength="14.0" lengthAdjust="spacingAndGlyphs">2005</text>
<text x="111.8" y="311.5" font-family="Liberation Sans, sans-serif" font-weight="bold" font-size="6.7" fill="#111" stroke="#111" stroke-width="0.12" textLength="12.9" lengthAdjust="spacingAndGlyphs">2006</text>
<text x="146" y="311.5" font-family="Liberation Sans, sans-serif" font-weight="bold" font-size="6.7" fill="#111" stroke="#111" stroke-width="0.12" textLength="13.5" lengthAdjust="spacingAndGlyphs">2007</text>
<text x="180.2" y="311.5" font-family="Liberation Sans, sans-serif" font-weight="bold" font-size="6.7" fill="#111" stroke="#111" stroke-width="0.12" textLength="13.6" lengthAdjust="spacingAndGlyphs">2008</text>
<text x="215.5" y="311.5" font-family="Liberation Sans, sans-serif" font-weight="bold" font-size="6.7" fill="#111" stroke="#111" stroke-width="0.12" textLength="13.4" lengthAdjust="spacingAndGlyphs">2009</text>
<text x="247.7" y="311.5" font-family="Liberation Sans, sans-serif" font-weight="bold" font-size="6.7" fill="#111" stroke="#111" stroke-width="0.12" textLength="12.9" lengthAdjust="spacingAndGlyphs">2010</text>
<text x="282" y="311.5" font-family="Liberation Sans, sans-serif" font-weight="bold" font-size="6.7" fill="#111" stroke="#111" stroke-width="0.12" textLength="12.2" lengthAdjust="spacingAndGlyphs">2011</text>
<text x="315.6" y="311.5" font-family="Liberation Sans, sans-serif" font-weight="bold" font-size="6.7" fill="#111" stroke="#111" stroke-width="0.12" textLength="13.3" lengthAdjust="spacingAndGlyphs">2012</text>
<text x="350.9" y="311.5" font-family="Liberation Sans, sans-serif" font-weight="bold" font-size="6.7" fill="#111" stroke="#111" stroke-width="0.12" textLength="13.8" lengthAdjust="spacingAndGlyphs">2013</text>
<rect x="29.90" y="305.8" width="1" height="7" fill="#1a1a1a"/>
<rect x="65.80" y="305.8" width="1" height="7" fill="#1a1a1a"/><rect x="68.20" y="305.8" width="1" height="7" fill="#1a1a1a"/>
<rect x="99.30" y="305.8" width="1" height="7" fill="#1a1a1a"/><rect x="101.70" y="305.8" width="1" height="7" fill="#1a1a1a"/>
<rect x="134.60" y="305.8" width="1" height="7" fill="#1a1a1a"/><rect x="137.00" y="305.8" width="1" height="7" fill="#1a1a1a"/>
<rect x="167.40" y="305.8" width="1" height="7" fill="#1a1a1a"/><rect x="169.80" y="305.8" width="1" height="7" fill="#1a1a1a"/>
<rect x="202.50" y="305.8" width="1" height="7" fill="#1a1a1a"/><rect x="204.90" y="305.8" width="1" height="7" fill="#1a1a1a"/>
<rect x="235.70" y="305.8" width="1" height="7" fill="#1a1a1a"/><rect x="238.10" y="305.8" width="1" height="7" fill="#1a1a1a"/>
<rect x="269.80" y="305.8" width="1" height="7" fill="#1a1a1a"/><rect x="272.20" y="305.8" width="1" height="7" fill="#1a1a1a"/>
<rect x="304.90" y="305.8" width="1" height="7" fill="#1a1a1a"/><rect x="307.30" y="305.8" width="1" height="7" fill="#1a1a1a"/>
<rect x="338.50" y="305.8" width="1" height="7" fill="#1a1a1a"/><rect x="340.90" y="305.8" width="1" height="7" fill="#1a1a1a"/>
<rect x="373.90" y="305.8" width="1" height="7" fill="#1a1a1a"/>
<rect x="39.90" y="309.1" width="1.3" height="0.95" fill="#222"/>
<rect x="37.80" y="309.1" width="1.3" height="0.95" fill="#222"/>
<rect x="35.70" y="309.1" width="1.3" height="0.95" fill="#222"/>
<rect x="33.60" y="309.1" width="1.3" height="0.95" fill="#222"/>
<rect x="59.20" y="309.1" width="1.3" height="0.95" fill="#222"/>
<rect x="61.30" y="309.1" width="1.3" height="0.95" fill="#222"/>
<rect x="63.40" y="309.1" width="1.3" height="0.95" fill="#222"/>
<rect x="75.00" y="309.1" width="1.3" height="0.95" fill="#222"/>
<rect x="72.90" y="309.1" width="1.3" height="0.95" fill="#222"/>
<rect x="70.80" y="309.1" width="1.3" height="0.95" fill="#222"/>
<rect x="95.00" y="309.1" width="1.3" height="0.95" fill="#222"/>
<rect x="97.10" y="309.1" width="1.3" height="0.95" fill="#222"/>
<rect x="108.60" y="309.1" width="1.3" height="0.95" fill="#222"/>
<rect x="106.50" y="309.1" width="1.3" height="0.95" fill="#222"/>
<rect x="104.40" y="309.1" width="1.3" height="0.95" fill="#222"/>
<rect x="127.50" y="309.1" width="1.3" height="0.95" fill="#222"/>
<rect x="129.60" y="309.1" width="1.3" height="0.95" fill="#222"/>
<rect x="131.70" y="309.1" width="1.3" height="0.95" fill="#222"/>
<rect x="142.80" y="309.1" width="1.3" height="0.95" fill="#222"/>
<rect x="140.70" y="309.1" width="1.3" height="0.95" fill="#222"/>
<rect x="138.60" y="309.1" width="1.3" height="0.95" fill="#222"/>
<rect x="162.30" y="309.1" width="1.3" height="0.95" fill="#222"/>
<rect x="164.40" y="309.1" width="1.3" height="0.95" fill="#222"/>
<rect x="177.00" y="309.1" width="1.3" height="0.95" fill="#222"/>
<rect x="174.90" y="309.1" width="1.3" height="0.95" fill="#222"/>
<rect x="172.80" y="309.1" width="1.3" height="0.95" fill="#222"/>
<rect x="196.60" y="309.1" width="1.3" height="0.95" fill="#222"/>
<rect x="198.70" y="309.1" width="1.3" height="0.95" fill="#222"/>
<rect x="200.80" y="309.1" width="1.3" height="0.95" fill="#222"/>
<rect x="212.30" y="309.1" width="1.3" height="0.95" fill="#222"/>
<rect x="210.20" y="309.1" width="1.3" height="0.95" fill="#222"/>
<rect x="208.10" y="309.1" width="1.3" height="0.95" fill="#222"/>
<rect x="231.70" y="309.1" width="1.3" height="0.95" fill="#222"/>
<rect x="233.80" y="309.1" width="1.3" height="0.95" fill="#222"/>
<rect x="244.50" y="309.1" width="1.3" height="0.95" fill="#222"/>
<rect x="242.40" y="309.1" width="1.3" height="0.95" fill="#222"/>
<rect x="263.40" y="309.1" width="1.3" height="0.95" fill="#222"/>
<rect x="265.50" y="309.1" width="1.3" height="0.95" fill="#222"/>
<rect x="267.60" y="309.1" width="1.3" height="0.95" fill="#222"/>
<rect x="278.80" y="309.1" width="1.3" height="0.95" fill="#222"/>
<rect x="276.70" y="309.1" width="1.3" height="0.95" fill="#222"/>
<rect x="274.60" y="309.1" width="1.3" height="0.95" fill="#222"/>
<rect x="297.00" y="309.1" width="1.3" height="0.95" fill="#222"/>
<rect x="299.10" y="309.1" width="1.3" height="0.95" fill="#222"/>
<rect x="301.20" y="309.1" width="1.3" height="0.95" fill="#222"/>
<rect x="312.40" y="309.1" width="1.3" height="0.95" fill="#222"/>
<rect x="310.30" y="309.1" width="1.3" height="0.95" fill="#222"/>
<rect x="331.70" y="309.1" width="1.3" height="0.95" fill="#222"/>
<rect x="333.80" y="309.1" width="1.3" height="0.95" fill="#222"/>
<rect x="335.90" y="309.1" width="1.3" height="0.95" fill="#222"/>
<rect x="347.70" y="309.1" width="1.3" height="0.95" fill="#222"/>
<rect x="345.60" y="309.1" width="1.3" height="0.95" fill="#222"/>
<rect x="343.50" y="309.1" width="1.3" height="0.95" fill="#222"/>
<rect x="367.50" y="309.1" width="1.3" height="0.95" fill="#222"/>
<rect x="369.60" y="309.1" width="1.3" height="0.95" fill="#222"/>
<rect x="371.70" y="309.1" width="1.3" height="0.95" fill="#222"/>
<text x="33" y="328.7" font-family="Liberation Sans, sans-serif" font-weight="bold" font-size="8" fill="#111" stroke="#111" stroke-width="0.05" textLength="356" lengthAdjust="spacingAndGlyphs">© 2013 Boykoff, Maxwell T., and Nacu-Schmidt, Ami, Cooperative Institute for Research in Environmental Sciences (CIRES),</text>
<text x="39.5" y="338.9" font-family="Liberation Sans, sans-serif" font-weight="bold" font-size="8" fill="#111" stroke="#111" stroke-width="0.05" textLength="239.2" lengthAdjust="spacingAndGlyphs">Center for Science and Technology Policy Research (CSTPR), University of Colorado</text>
<text x="418" y="330.1" font-family="Liberation Sans, sans-serif" font-style="italic" font-size="6.8" fill="#111" stroke="#111" stroke-width="0.1" textLength="41" lengthAdjust="spacingAndGlyphs">updated through</text>
<text x="421.1" y="338.5" font-family="Liberation Sans, sans-serif" font-style="italic" font-size="6.8" fill="#111" stroke="#111" stroke-width="0.1" textLength="37.4" lengthAdjust="spacingAndGlyphs">December 2013</text>
</svg></body></html>
